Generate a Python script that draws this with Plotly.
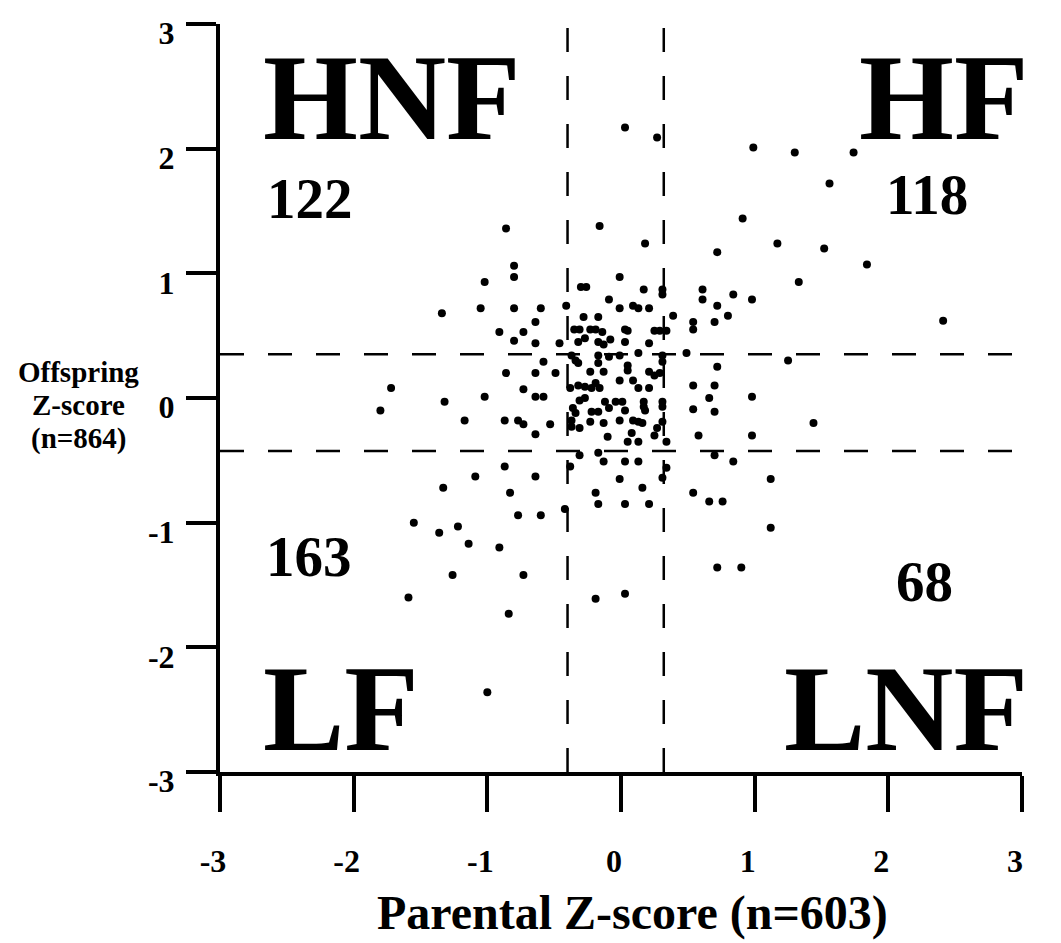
import plotly.graph_objects as go

# ---- data ----
parental_z = [
    0.99, 1.30, 1.74, 1.56, 0.91, 1.17, 1.52, 1.84, 0.72, 1.33,
    0.61, 0.61, 0.84, 0.98, 0.72, 0.80, 0.54, 0.54, 0.70, 1.25,
    0.72, 0.54, 0.70, 0.66, 0.98, 0.54, 0.70, 1.44, 0.58, 0.98,
    0.70, 0.84, 1.12, 0.54, 0.66, 0.76, 1.12, 0.72, 0.90, 2.41,
    0.03, 0.27, -0.16, 0.18, -0.86, -0.80, -0.80, -1.02, -1.05, -0.80,
    -0.60, -1.34, -0.64, -0.91, -0.73, -0.80, -0.64, -0.46, -0.41, -0.58,
    -0.86, -0.64, -0.49, -0.73, -1.02, -0.64, -0.58, -1.32, -1.17, -0.87,
    -0.77, -0.73, -0.53, -0.64, -0.87, -1.09, -0.64, -1.33, -0.83, -0.77,
    -0.60, -0.42, -1.36, -1.22, -1.14, -0.91, -1.26, -0.73, -1.72, -1.80,
    -1.55, -1.59, -1.00, -0.84, -0.01, -0.30, -0.26, 0.17, 0.31, 0.31,
    -0.09, -0.01, 0.09, 0.13, 0.21, -0.28, -0.17, 0.39, -0.35, -0.31,
    -0.23, -0.19, -0.14, 0.03, 0.05, 0.25, 0.29, 0.34, -0.32, -0.27,
    -0.17, -0.13, -0.08, 0.03, 0.21, -0.37, -0.34, -0.32, -0.17, -0.17,
    -0.09, -0.01, 0.05, 0.05, 0.13, 0.31, 0.31, 0.49, -0.23, -0.13,
    0.21, 0.25, 0.29, -0.01, 0.09, -0.38, -0.32, -0.27, -0.22, -0.19,
    -0.16, 0.13, 0.21, -0.31, -0.27, -0.12, -0.04, 0.01, 0.17, 0.17,
    0.31, 0.31, -0.36, -0.34, -0.22, -0.17, -0.09, 0.03, 0.18, -0.37,
    -0.37, -0.31, -0.23, -0.13, -0.01, 0.09, 0.13, 0.16, 0.27, 0.31,
    0.08, -0.10, 0.25, 0.05, 0.13, 0.34, -0.31, -0.38, -0.17, -0.13,
    0.03, 0.13, 0.34, 0.31, -0.01, 0.16, -0.19, -0.17, 0.03, 0.21,
    -0.19, 0.03,
]
offspring_z = [
    2.01, 1.97, 1.97, 1.72, 1.44, 1.24, 1.20, 1.07, 1.17, 0.93,
    0.87, 0.79, 0.83, 0.79, 0.74, 0.66, 0.61, 0.55, 0.61, 0.30,
    0.25, 0.10, 0.10, 0.00, 0.01, -0.09, -0.11, -0.20, -0.30, -0.30,
    -0.46, -0.51, -0.65, -0.76, -0.83, -0.83, -1.04, -1.36, -1.36, 0.62,
    2.17, 2.09, 1.38, 1.24, 1.36, 1.06, 0.97, 0.93, 0.72, 0.72,
    0.72, 0.68, 0.61, 0.53, 0.53, 0.46, 0.44, 0.44, 0.74, 0.29,
    0.20, 0.20, 0.20, 0.07, 0.01, 0.01, 0.01, -0.03, -0.18, -0.18,
    -0.18, -0.21, -0.21, -0.29, -0.55, -0.63, -0.63, -0.72, -0.76, -0.94,
    -0.94, -0.89, -1.08, -1.03, -1.17, -1.20, -1.42, -1.42, 0.08, -0.10,
    -1.00, -1.60, -2.36, -1.73, 0.97, 0.89, 0.89, 0.87, 0.87, 0.83,
    0.79, 0.72, 0.74, 0.72, 0.72, 0.65, 0.65, 0.66, 0.55, 0.55,
    0.55, 0.55, 0.53, 0.55, 0.54, 0.54, 0.54, 0.54, 0.45, 0.48,
    0.45, 0.43, 0.47, 0.45, 0.44, 0.34, 0.30, 0.28, 0.34, 0.28,
    0.33, 0.34, 0.26, 0.22, 0.36, 0.34, 0.29, 0.36, 0.21, 0.21,
    0.21, 0.18, 0.20, 0.14, 0.14, 0.08, 0.10, 0.09, 0.08, 0.12,
    0.08, 0.08, 0.08, -0.02, 0.00, -0.03, -0.03, -0.03, -0.03, -0.07,
    -0.03, -0.07, -0.08, -0.12, -0.11, -0.11, -0.08, -0.10, -0.10, -0.18,
    -0.23, -0.24, -0.19, -0.20, -0.18, -0.18, -0.19, -0.20, -0.24, -0.19,
    -0.28, -0.31, -0.30, -0.35, -0.35, -0.35, -0.46, -0.55, -0.44, -0.51,
    -0.51, -0.51, -0.56, -0.64, -0.65, -0.72, -0.76, -0.85, -0.85, -0.85,
    -1.61, -1.57,
]

tick_values = [-3, -2, -1, 0, 1, 2, 3]
tick_labels = ["-3", "-2", "-1", "0", "1", "2", "3"]

parental_cutoffs = [-0.40, 0.32]
offspring_cutoffs = [0.35, -0.425]

quadrant_names = ["HNF", "HF", "LF", "LNF"]
quadrant_counts = ["122", "118", "163", "68"]

x_title = "Parental Z-score (n=603)"
y_title_lines = ["Offspring", "Z-score", "(n=864)"]

FONT = "Liberation Serif"
XR = [-3, 3]
YR = [-3, 3]

fig = go.Figure()
fig.add_trace(go.Scatter(
    x=parental_z, y=offspring_z, mode="markers",
    marker=dict(color="black", size=8, line=dict(width=0)),
    showlegend=False, hoverinfo="skip",
))

dash = "24px,24px"
for v in parental_cutoffs:
    px = (v - XR[0]) / (XR[1] - XR[0])
    fig.add_shape(type="line", xref="paper", yref="paper", x0=px, x1=px, y0=0, y1=1.03,
                  line=dict(color="black", width=2.5, dash=dash), layer="above")
for h in offspring_cutoffs:
    fig.add_shape(type="line", xref="paper", yref="y", x0=0, x1=1, y0=h, y1=h,
                  line=dict(color="black", width=2.5, dash=dash), layer="above")

big = dict(family=FONT, size=122, color="black", weight="bold")
mid = dict(family=FONT, size=57, color="black", weight="bold")

# quadrant names
fig.add_annotation(x=-2.69, y=2.414, text=quadrant_names[0], xanchor="left", yanchor="middle",
                   showarrow=False, font=big)
fig.add_annotation(x=3.0, y=2.414, text=quadrant_names[1], xanchor="right", yanchor="middle",
                   xshift=8, showarrow=False, font=big)
fig.add_annotation(x=-2.69, y=-2.49, text=quadrant_names[2], xanchor="left", yanchor="middle",
                   showarrow=False, font=big)
fig.add_annotation(x=3.0, y=-2.49, text=quadrant_names[3], xanchor="right", yanchor="middle",
                   xshift=8, showarrow=False, font=big)
# quadrant counts
fig.add_annotation(x=-2.66, y=1.60, text=quadrant_counts[0], xanchor="left", yanchor="middle",
                   showarrow=False, font=mid)
fig.add_annotation(x=2.29, y=1.63, text=quadrant_counts[1], xanchor="center", yanchor="middle",
                   showarrow=False, font=mid)
fig.add_annotation(x=-2.67, y=-1.27, text=quadrant_counts[2], xanchor="left", yanchor="middle",
                   showarrow=False, font=mid)
fig.add_annotation(x=2.27, y=-1.47, text=quadrant_counts[3], xanchor="center", yanchor="middle",
                   showarrow=False, font=mid)

# axis titles
fig.add_annotation(xref="paper", yref="paper", x=0.514, y=-0.188, text=x_title,
                   xanchor="center", yanchor="middle", showarrow=False,
                   font=dict(family=FONT, size=48, color="black", weight="bold"))
for txt, yv in zip(y_title_lines, [0.209, -0.056, -0.321]):
    fig.add_annotation(xref="paper", yref="y", x=-0.177, y=yv, text=txt,
                       xanchor="center", yanchor="middle", showarrow=False,
                       font=dict(family=FONT, size=29, color="black", weight="bold"))

tickfont = dict(family=FONT, size=32, color="black", weight="bold")
fig.update_xaxes(range=XR, tickvals=tick_values, ticktext=tick_labels,
                 ticks="outside", ticklen=36, tickwidth=4, tickcolor="black",
                 showline=True, linewidth=4, linecolor="black",
                 showgrid=False, zeroline=False, tickfont=tickfont, automargin=False,
                 ticklabelstandoff=22, ticklabelshift=-7, ticklabeloverflow="allow")
fig.update_yaxes(range=YR, tickvals=tick_values, ticktext=tick_labels,
                 ticks="outside", ticklen=30, tickwidth=4, tickcolor="black",
                 showline=True, linewidth=4, linecolor="black",
                 showgrid=False, zeroline=False, tickfont=tickfont, automargin=False,
                 ticklabelstandoff=5, ticklabelshift=9, ticklabeloverflow="allow")

# page body adds an 8px margin: size the figure so plot area lands where the reference has it
fig.update_layout(
    width=1053, height=935,
    margin=dict(l=212, r=39, t=16, b=171, autoexpand=False),
    plot_bgcolor="white", paper_bgcolor="white",
    showlegend=False,
)

fig.write_html("out.html")
